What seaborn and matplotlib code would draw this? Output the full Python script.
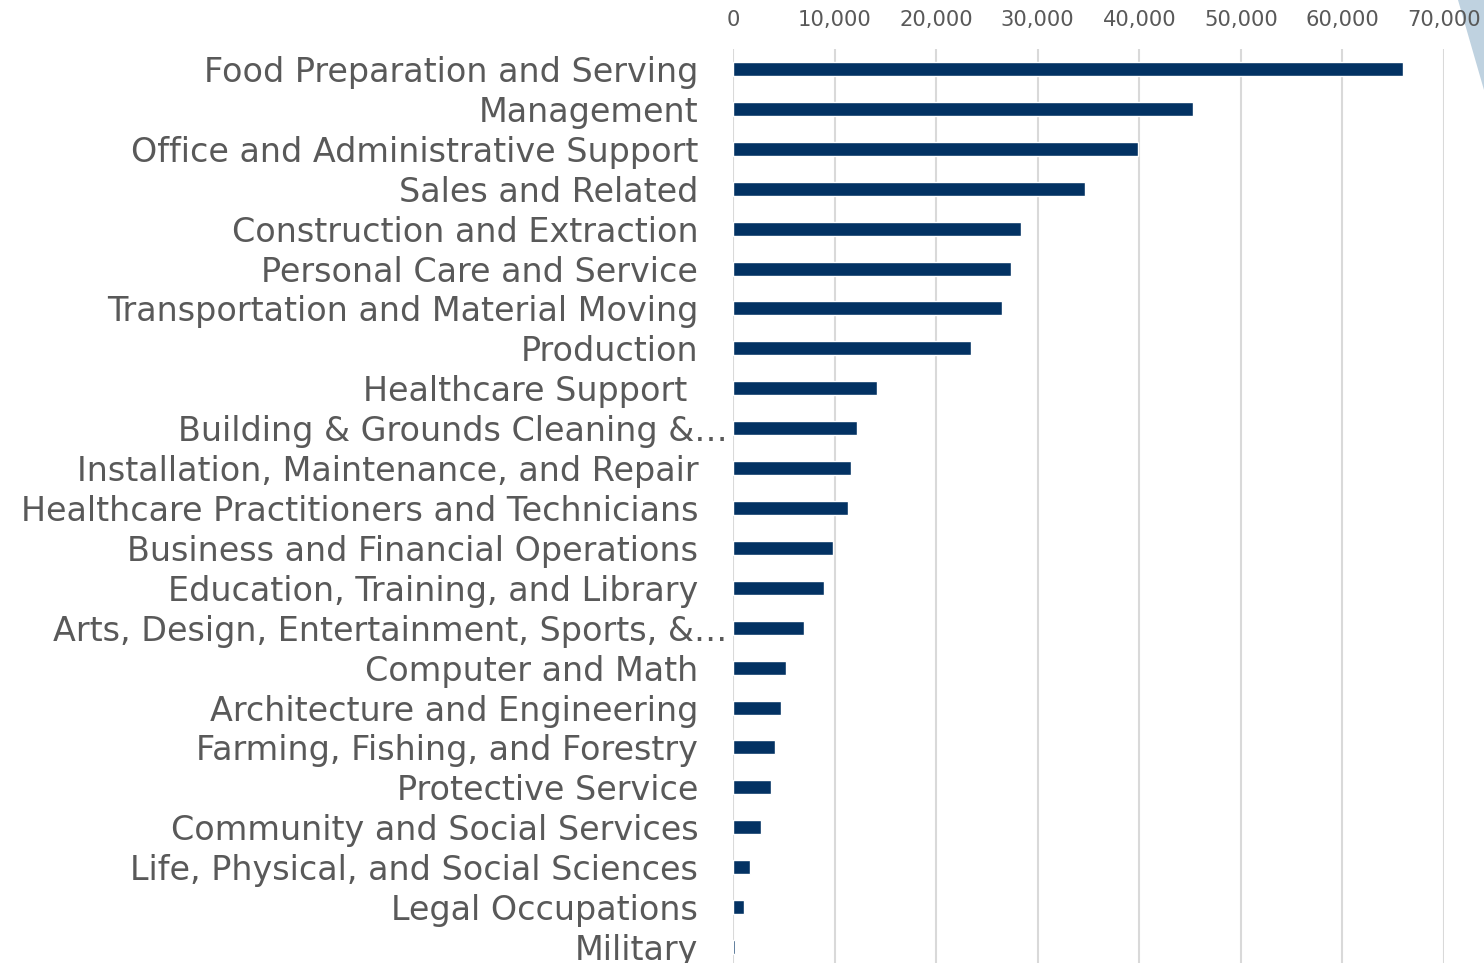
import matplotlib
matplotlib.use("Agg")
import matplotlib.pyplot as plt
import matplotlib.transforms as mtransforms
from matplotlib.patches import Polygon
from matplotlib.ticker import FuncFormatter, MultipleLocator
import seaborn as sns
import pandas as pd

categories = [
    "Food Preparation and Serving",
    "Management",
    "Office and Administrative Support",
    "Sales and Related",
    "Construction and Extraction",
    "Personal Care and Service",
    "Transportation and Material Moving",
    "Production",
    "Healthcare Support ",
    "Building & Grounds Cleaning &…",
    "Installation, Maintenance, and Repair",
    "Healthcare Practitioners and Technicians",
    "Business and Financial Operations",
    "Education, Training, and Library",
    "Arts, Design, Entertainment, Sports, &…",
    "Computer and Math",
    "Architecture and Engineering",
    "Farming, Fishing, and Forestry",
    "Protective Service",
    "Community and Social Services",
    "Life, Physical, and Social Sciences",
    "Legal Occupations",
    "Military",
]
values = [66000, 45300, 39850, 34650, 28350, 27350, 26450, 23450, 14150,
          12200, 11600, 11300, 9850, 8950, 7000, 5200, 4700, 4100, 3700,
          2750, 1650, 1050, 200]

df = pd.DataFrame({"category": categories, "value": values})

sns.set_style("white")
plt.rcParams["font.family"] = ["DejaVu Sans"]

fig = plt.figure(figsize=(14.84, 9.63), dpi=100)
W, H = 1484, 963
ax = fig.add_axes([733 / W, 1 - 967 / H, (1444 - 733) / W, (967 - 49) / H])

sns.barplot(data=df, y="category", x="value", orient="h", color="#033263",
            width=0.35, saturation=1, ax=ax, order=categories)

ax.set_xlim(0, 70000)
ax.xaxis.set_major_locator(MultipleLocator(10000))
ax.xaxis.set_major_formatter(FuncFormatter(lambda v, p: f"{int(v):,}"))
ax.xaxis.tick_top()
ax.grid(axis="x", color="#d9d9d9", linewidth=1.5)
ax.grid(axis="y", visible=False)
ax.set_axisbelow(True)
for s in ax.spines.values():
    s.set_visible(False)
ax.set_xlabel("")
ax.set_ylabel("")
ax.tick_params(axis="x", length=0, pad=14, labelsize=15.2, labelcolor="#595959")
ax.tick_params(axis="y", length=0, pad=25, labelsize=24, labelcolor="#595959")

for lab in ax.get_yticklabels():
    if lab.get_text().endswith("…"):
        lab.set_transform(lab.get_transform() +
                          mtransforms.ScaledTranslation(29 / 100, 0, fig.dpi_scale_trans))

# decorative light-blue wedge at top-right corner (behind the tick labels)
fig.patches.append(Polygon([[1458 / W, 1.0], [1.0, 1.0], [1.0, 1 - 90 / H]],
                           closed=True, transform=fig.transFigure,
                           facecolor="#bfd2e0", edgecolor="none", zorder=-1))

fig.savefig("out.png", dpi=100)
